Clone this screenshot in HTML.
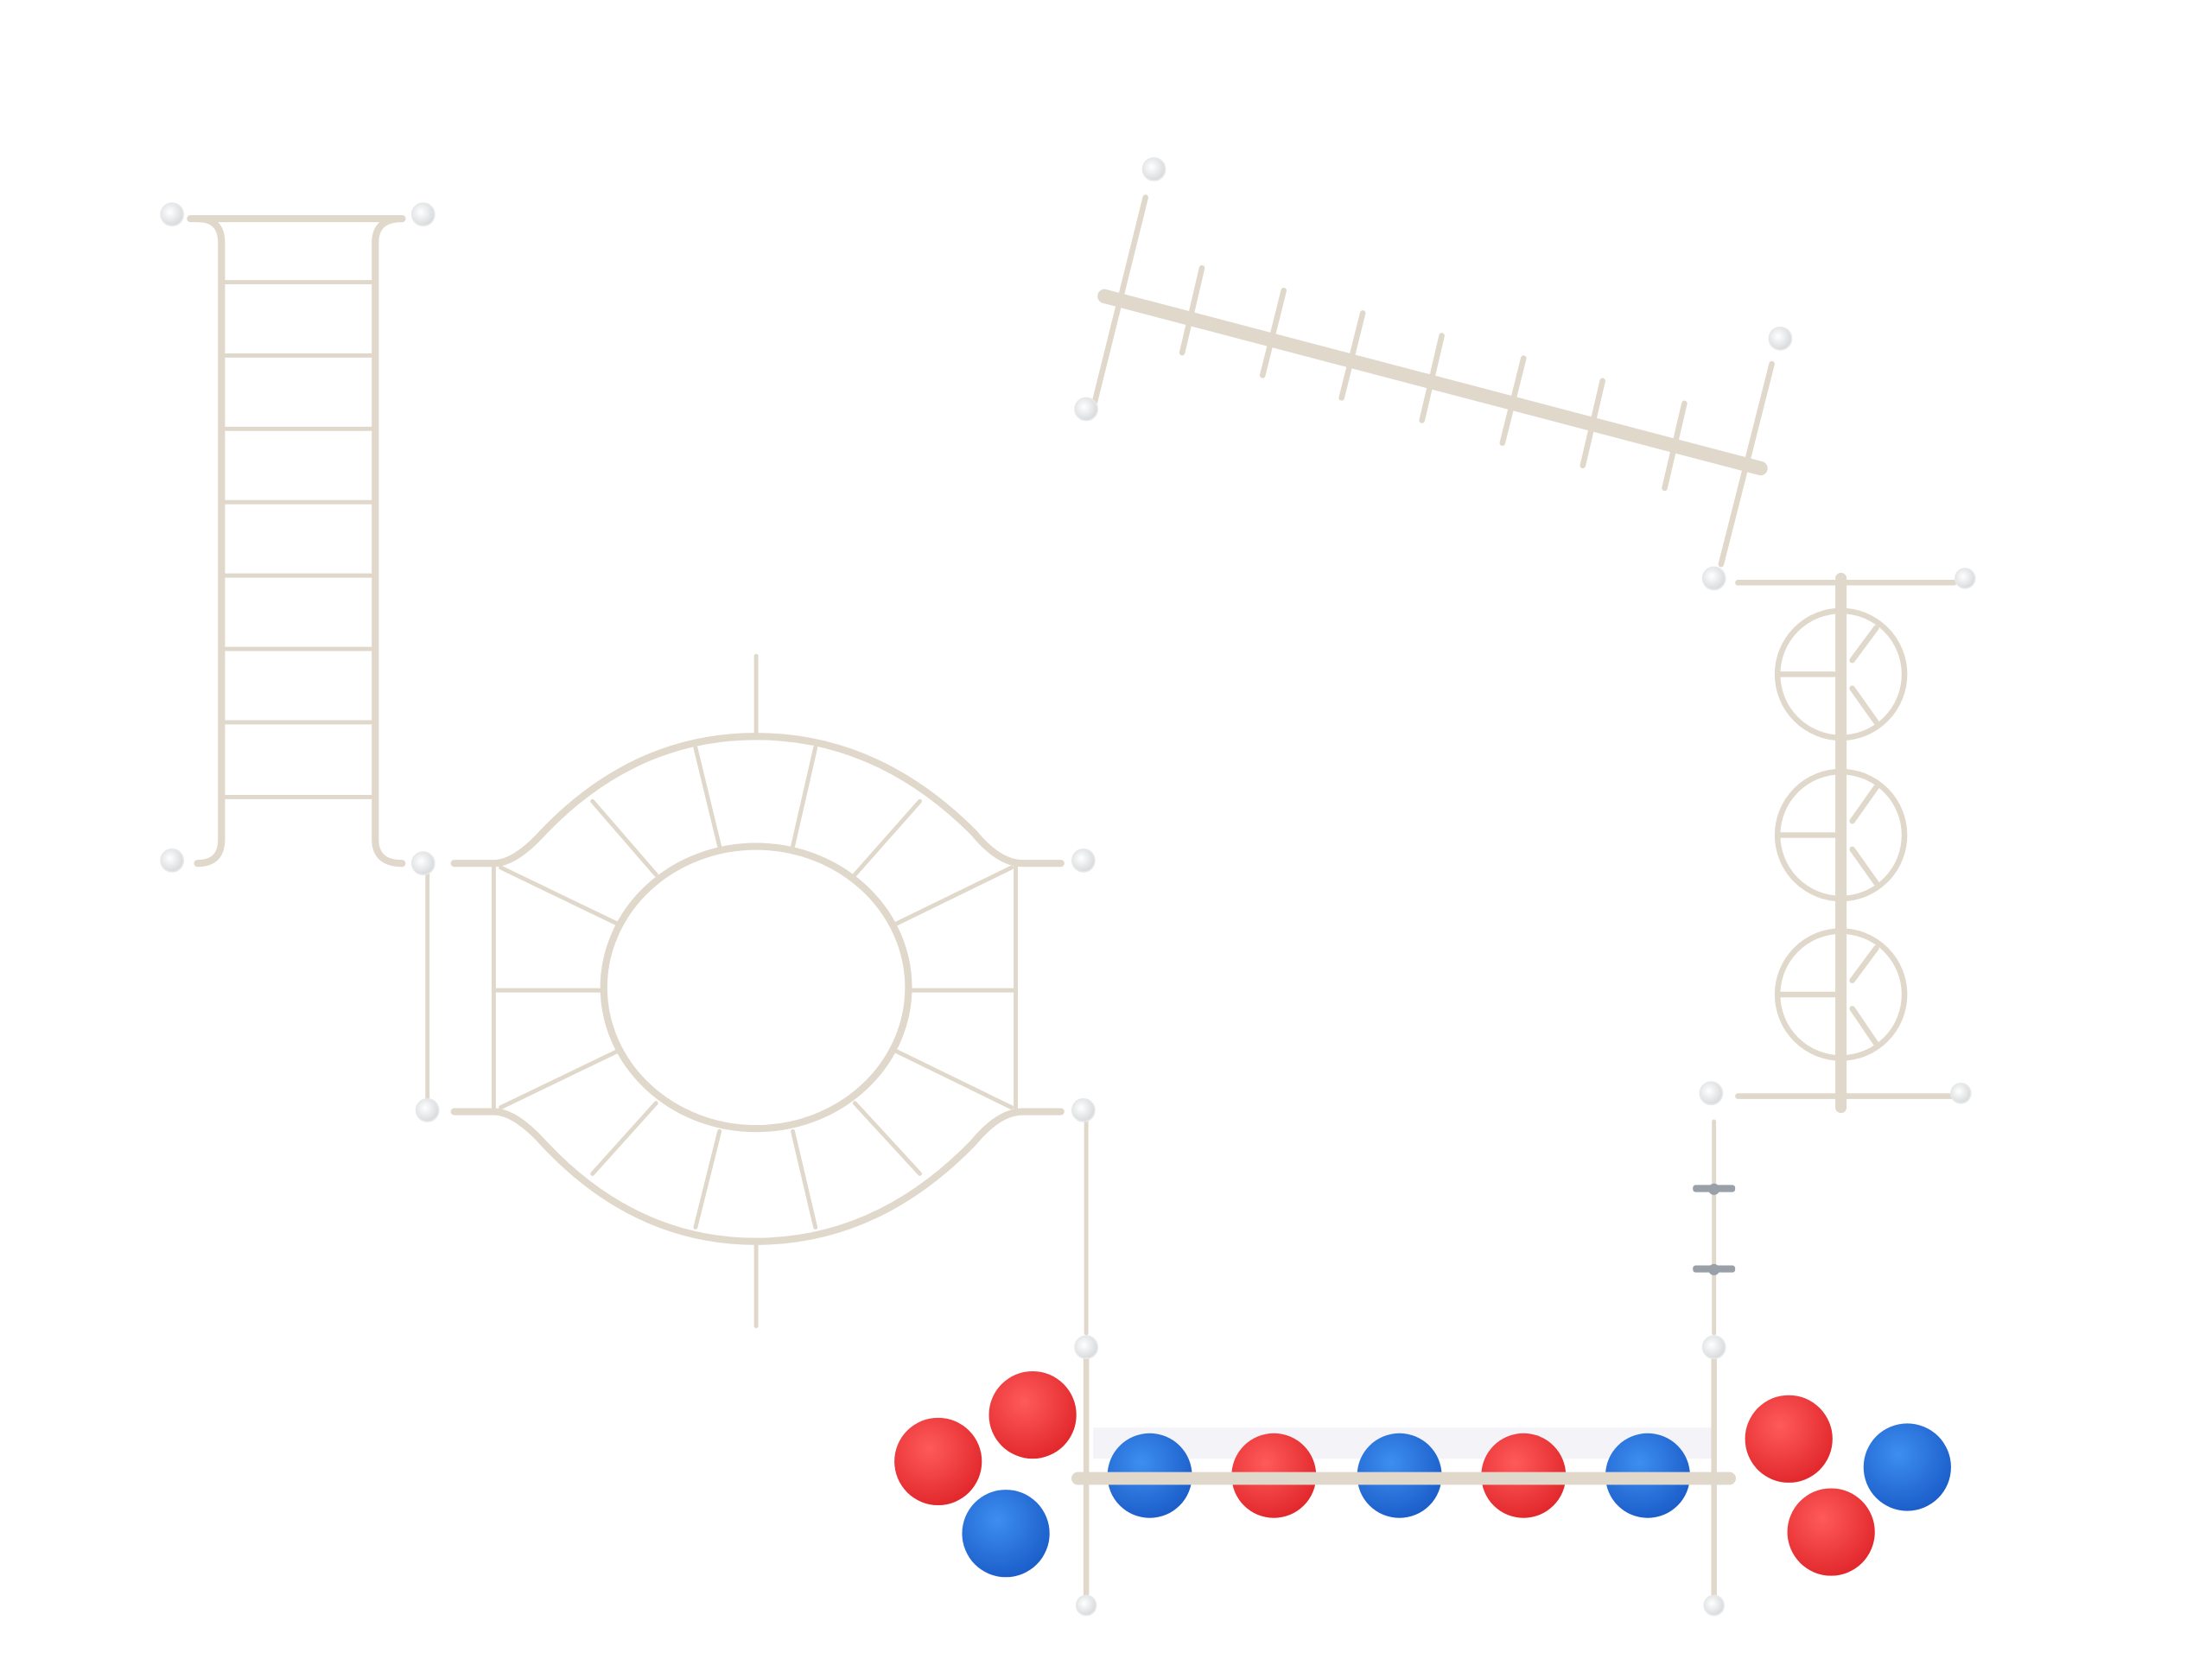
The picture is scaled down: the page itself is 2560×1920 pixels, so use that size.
<!DOCTYPE html>
<html><head><style>html,body{margin:0;padding:0;background:#fff;}svg{display:block}</style></head>
<body>
<svg width="2560" height="1920" viewBox="0 0 1568 1176" xmlns="http://www.w3.org/2000/svg">
<defs>
<radialGradient id="post" cx="0.4" cy="0.4" r="0.6"><stop offset="0" stop-color="#ffffff"/><stop offset="1" stop-color="#d8dadc"/></radialGradient>
<radialGradient id="red" cx="0.4" cy="0.35" r="0.7"><stop offset="0" stop-color="#ff5a5a"/><stop offset="1" stop-color="#e0262a"/></radialGradient>
<radialGradient id="blue" cx="0.4" cy="0.35" r="0.7"><stop offset="0" stop-color="#3d8ef0"/><stop offset="1" stop-color="#1a5cc8"/></radialGradient>
</defs>
<g fill="none" stroke="#e0d8cb" stroke-linecap="round">
<g stroke-width="5">
<path d="M135 155 H285"/>
<path d="M140 155 Q157 155 157 172 V595 Q157 612 140 612"/>
<path d="M285 155 Q266 155 266 172 V595 Q266 612 285 612"/>
</g>
<g stroke-width="3">
<path d="M160 200H263M160 252H263M160 304H263M160 356H263M160 408H263M160 460H263M160 512H263M160 565H263"/>
<path d="M303 620V782"/>
</g>
<g stroke-width="5">
<ellipse cx="536" cy="700" rx="108" ry="100"/>
<path d="M322 612 H350 Q365 612 385 590 Q450 522 536 522 Q622 522 690 590 Q708 612 725 612 H752"/>
<path d="M322 788 H350 Q365 788 385 810 Q450 880 536 880 Q622 880 690 810 Q708 788 725 788 H752"/>
</g>
<g stroke-width="3">
<path d="M350 612V788M720 612V788M536 465V522M536 880V940"/>
<path d="M352 702H428M644 702H720"/>
<path d="M355 615L438 655M355 785L438 745M717 615L635 655M717 785L635 745"/>
<path d="M420 568L465 620M493 530L510 600M578 530L562 600M652 568L606 620"/>
<path d="M420 832L465 782M493 870L510 802M578 870L562 802M652 832L606 782"/>
<path d="M770 795V945M1215 795V945"/>
</g>
<path d="M783 210 L1248 332" stroke-width="10"/>
<g stroke-width="4">
<path d="M812 140 L776 285M1256 258 L1220 400"/>
<path d="M852 190L838 250M910 206L895 266M966 222L951 282M1022 238L1008 298M1080 254L1065 314M1136 270L1122 330M1194 286L1180 346"/>
</g>
<path d="M1305 410V785" stroke-width="8"/>
<g stroke-width="4">
<path d="M1232 413H1385M1232 777H1385"/>
<circle cx="1305" cy="478" r="45"/><circle cx="1305" cy="592" r="45"/><circle cx="1305" cy="705" r="45"/>
<path d="M1262 478H1300M1313 468L1330 445M1313 488L1330 512M1262 592H1300M1313 582L1330 558M1313 602L1330 626M1262 705H1300M1313 695L1330 672M1313 715L1330 740"/>
</g>
</g>
<g fill="#9aa0a8"><rect x="1200" y="840" width="30" height="5" rx="2"/><rect x="1200" y="897" width="30" height="5" rx="2"/><circle cx="1215" cy="843" r="4"/><circle cx="1215" cy="900" r="4"/></g>
<rect x="775" y="1012" width="440" height="22" fill="#f3f3f8"/>
<g>
<circle cx="815" cy="1046" r="30" fill="url(#blue)"/>
<circle cx="903" cy="1046" r="30" fill="url(#red)"/>
<circle cx="992" cy="1046" r="30" fill="url(#blue)"/>
<circle cx="1080" cy="1046" r="30" fill="url(#red)"/>
<circle cx="1168" cy="1046" r="30" fill="url(#blue)"/>
<circle cx="732" cy="1003" r="31" fill="url(#red)"/>
<circle cx="665" cy="1036" r="31" fill="url(#red)"/>
<circle cx="713" cy="1087" r="31" fill="url(#blue)"/>
<circle cx="1268" cy="1020" r="31" fill="url(#red)"/>
<circle cx="1298" cy="1086" r="31" fill="url(#red)"/>
<circle cx="1352" cy="1040" r="31" fill="url(#blue)"/>
</g>
<g fill="none" stroke="#e0d8cb" stroke-linecap="round">
<path d="M770 960V1140M1215 960V1140" stroke-width="4"/>
<path d="M764 1048H1226" stroke-width="9"/>
</g>
<g fill="url(#post)" stroke="#e6e8ea" stroke-width="1">
<circle cx="122" cy="152" r="8"/><circle cx="300" cy="152" r="8"/><circle cx="122" cy="610" r="8"/><circle cx="300" cy="612" r="8"/>
<circle cx="303" cy="787" r="8"/><circle cx="768" cy="610" r="8"/><circle cx="768" cy="787" r="8"/><circle cx="770" cy="955" r="8"/>
<circle cx="818" cy="120" r="8"/><circle cx="770" cy="290" r="8"/><circle cx="1262" cy="240" r="8"/><circle cx="1215" cy="410" r="8"/>
<circle cx="1393" cy="410" r="7"/><circle cx="1213" cy="775" r="8"/><circle cx="1390" cy="775" r="7"/><circle cx="1215" cy="955" r="8"/>
<circle cx="770" cy="1138" r="7"/><circle cx="1215" cy="1138" r="7"/>
</g>
</svg>
</body></html>
